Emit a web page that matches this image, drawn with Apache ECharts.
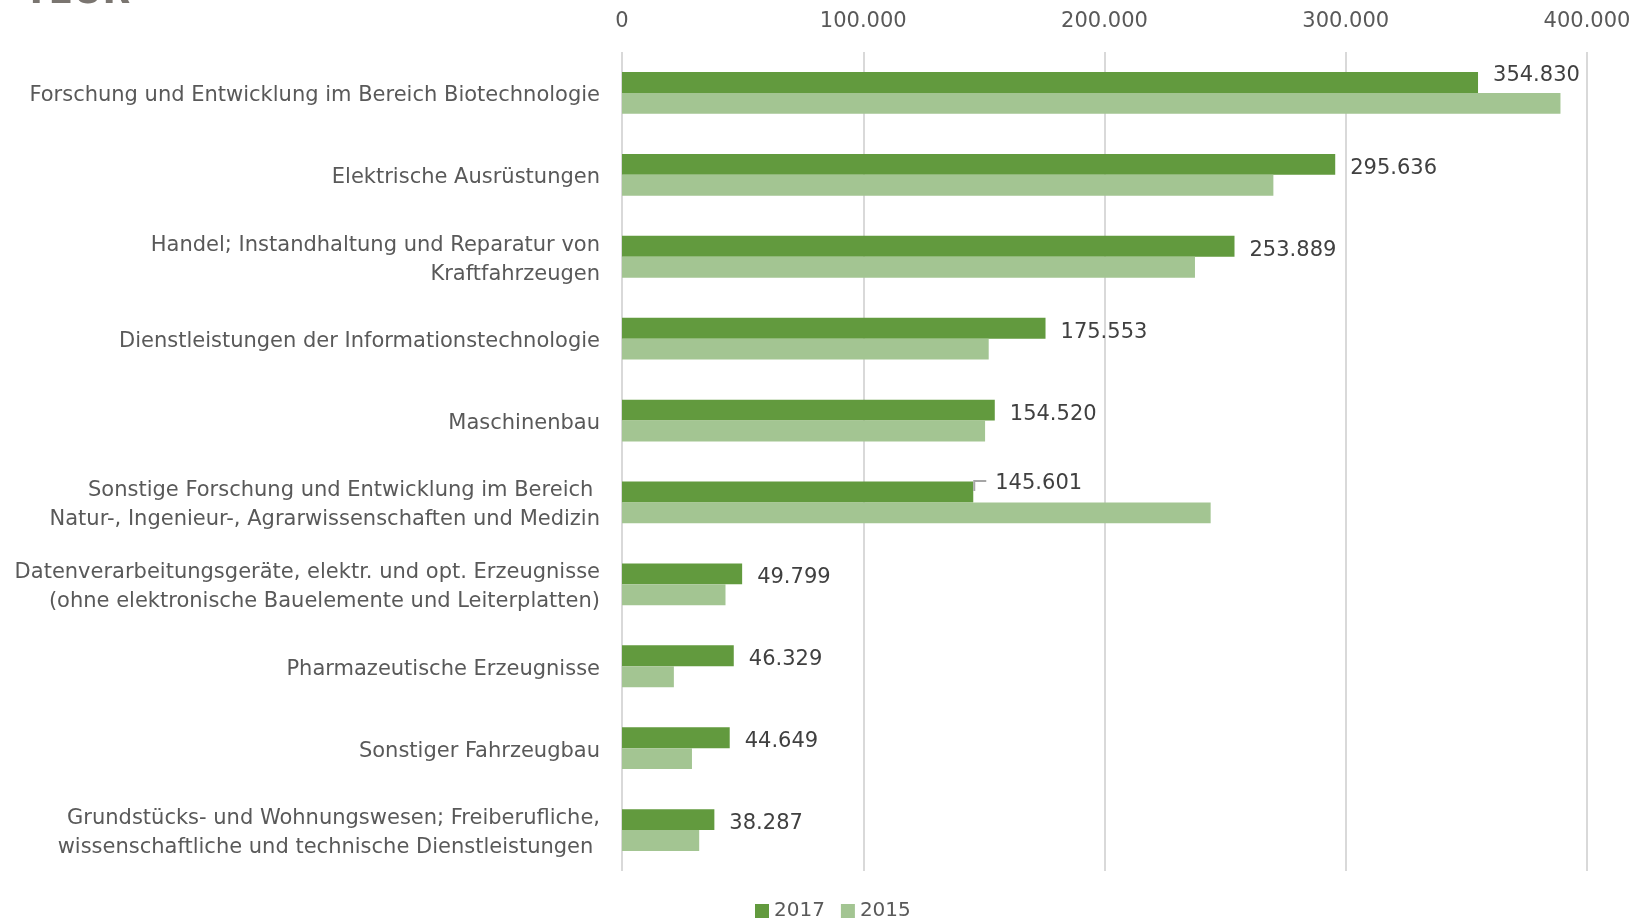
<!DOCTYPE html>
<html><head><meta charset="utf-8">
<script src="https://cdn.jsdelivr.net/npm/echarts@6/dist/echarts.min.js"></script>
<style>html,body{margin:0;padding:0;background:#fff}#c{width:1642px;height:922px}</style>
</head><body><div id="c"></div>
<script>
const categories = [
  "Forschung und Entwicklung im Bereich Biotechnologie",
  "Elektrische Ausrüstungen",
  "Handel; Instandhaltung und Reparatur von\nKraftfahrzeugen",
  "Dienstleistungen der Informationstechnologie",
  "Maschinenbau",
  "Sonstige Forschung und Entwicklung im Bereich \nNatur-, Ingenieur-, Agrarwissenschaften und Medizin",
  "Datenverarbeitungsgeräte, elektr. und opt. Erzeugnisse\n(ohne elektronische Bauelemente und Leiterplatten)",
  "Pharmazeutische Erzeugnisse",
  "Sonstiger Fahrzeugbau",
  "Grundstücks- und Wohnungswesen; Freiberufliche,\nwissenschaftliche und technische Dienstleistungen "
];
const values2017 = [354830, 295636, 253889, 175553, 154520, 145601, 49799, 46329, 44649, 38287];
const values2015 = [389000, 270000, 237500, 152000, 150500, 244000, 42900, 21500, 29000, 32000];
const seriesNames = ["2017", "2015"];
const unitLabel = "TEUR";
const leaderIndex = 5;

const FONT = "Tahoma, 'DejaVu Sans', sans-serif";
const CAT_GAP = 0.49;
function fmt(v){ return String(v).replace(/\B(?=(\d{3})+(?!\d))/g, "."); }

const chart = echarts.init(document.getElementById('c'));
chart.setOption({
  animation: false,
  graphic: [{
    type: 'text', left: 24, top: -24,
    style: { text: unitLabel, font: 'bold 36px ' + FONT, fill: '#7a7570' }
  }],
  grid: { left: 622, right: 55, top: 52, bottom: 51 },
  legend: {
    bottom: -4, left: 750, itemWidth: 14, itemHeight: 14, itemGap: 16,
    icon: 'rect',
    textStyle: { fontFamily: FONT, fontSize: 20, color: '#595959' },
    data: seriesNames
  },
  xAxis: {
    type: 'value', position: 'top', min: 0, max: 400000, interval: 100000,
    axisLine: { show: false }, axisTick: { show: false },
    splitLine: { lineStyle: { color: '#d9d9d9', width: 2 } },
    axisLabel: { fontFamily: FONT, fontSize: 21, color: '#595959', margin: 20, formatter: fmt }
  },
  yAxis: {
    type: 'category', inverse: true, data: categories,
    axisLine: { show: false }, axisTick: { show: false },
    axisLabel: {
      margin: 22,
      formatter: v => '{s|}\n' + v.split('\n').map(l => '{a|' + l + '}').join('\n'),
      rich: {
        s: { lineHeight: 6, fontSize: 1 },
        a: { fontFamily: FONT, fontSize: 21, color: '#595959', lineHeight: 29, align: 'right' }
      }
    }
  },
  series: [
    {
      name: seriesNames[0], type: 'bar', barGap: '0%', barCategoryGap: (CAT_GAP * 100) + '%',
      itemStyle: { color: '#629a3e' },
      data: values2017,
      label: { show: true, position: 'right', distance: 15, fontFamily: FONT, fontSize: 21, color: '#404040',
        formatter: p => fmt(p.value) },
      labelLayout: p => p.dataIndex === leaderIndex ? { dx: 7, dy: -8 } : (p.dataIndex === 0 ? { dy: -7 } : { dy: 4 })
    },
    {
      name: seriesNames[1], type: 'bar', barGap: '0%', barCategoryGap: (CAT_GAP * 100) + '%',
      itemStyle: { color: '#a3c592' },
      data: values2015
    },
    {
      type: 'custom', silent: true, z: 5,
      data: [[values2017[leaderIndex], leaderIndex]],
      renderItem: (params, api) => {
        const p = api.coord([api.value(0), api.value(1)]);
        const band = api.size([0, 1])[1];
        const bw = band * (1 - CAT_GAP) / 2;
        const x = p[0] + 1, yMid = p[1] - bw / 2;
        return {
          type: 'polyline',
          shape: { points: [[x, yMid - 1], [x, yMid - 11], [x + 12, yMid - 11]] },
          style: { stroke: '#a6a6a6', lineWidth: 2, fill: null }
        };
      }
    }
  ]
});
</script></body></html>
